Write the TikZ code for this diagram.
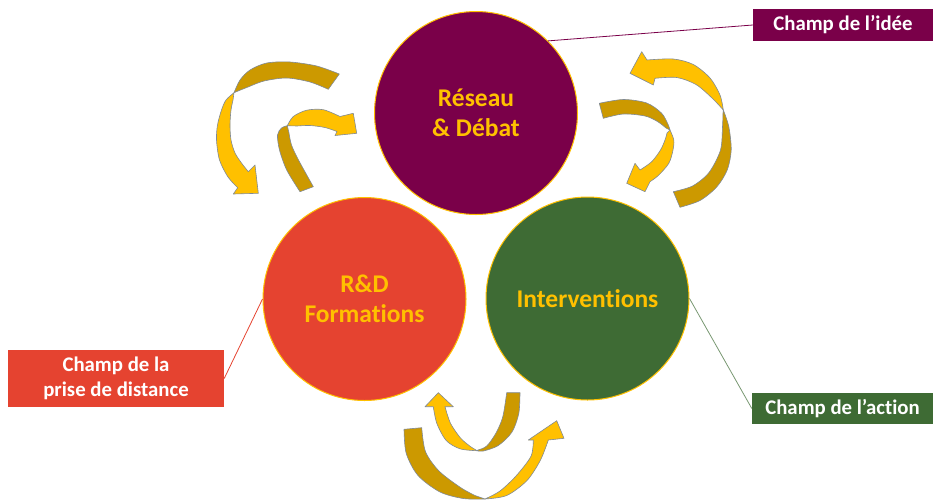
\documentclass[tikz,border=0pt]{standalone}
\usepackage{fontspec}
\setmainfont{Carlito}[Ligatures=NoCommon]
\definecolor{ideefill}{RGB}{122,0,73}
\definecolor{distfill}{RGB}{229,67,48}
\definecolor{actfill}{RGB}{62,107,52}
\definecolor{gold}{RGB}{255,192,0}
\definecolor{darkgold}{RGB}{204,153,0}
\definecolor{rim}{RGB}{128,138,150}
\tikzset{
  field/.style={
    % The shape:
    circle,
    % The size:
    minimum size=203pt, inner sep=0pt,
    % The border:
    draw=gold, line width=1pt,
    % The text:
    text=gold, align=center,
    font=\bfseries\fontsize{25.5}{30}\selectfont},
  tag/.style={
    % The shape:
    rectangle, inner sep=0pt,
    % The text:
    text=white, align=center,
    font=\bfseries\fontsize{20.8}{25}\selectfont},
  link/.style={line width=0.8pt},
  % The two faces of a ribbon arrow:
  upper side/.style={fill=gold, draw=rim, line width=0.6pt, line join=round},
  under side/.style={fill=darkgold, draw=rim, line width=0.6pt, line join=round}
}

\begin{document}
\begin{tikzpicture}[x=1pt,y=-1pt]
  \useasboundingbox (0,0) rectangle (933,499);

  % The fields:
  \node (reseau) [field, fill=ideefill] at (476,113)     {Réseau\\\& Débat};
  \node (rd)     [field, fill=distfill] at (364.5,299)   {R\&D\\Formations};
  \node (inter)  [field, fill=actfill]  at (587.5,298.5) {Interventions};

  % The tags:
  \node (idee)   [tag, fill=ideefill, minimum width=180pt, minimum height=32pt] at (843,25)    {Champ de l’idée};
  \node (recul)  [tag, fill=distfill, minimum width=216pt, minimum height=57pt] at (116,378.5) {Champ de la\\prise de distance};
  \node (action) [tag, fill=actfill,  minimum width=181pt, minimum height=31pt] at (842.5,408.5) {Champ de l’action};

  \draw[link, ideefill]         (reseau.45) -- (idee.west);
  \draw[link, distfill]         (rd.west)   -- (recul.east);
  \draw[link, actfill!70!white] (inter.east) -- (action.west);

  % Top left, outer arrow:
  \draw[under side] plot[smooth] coordinates {(339.3,74) (316.7,66) (290,62) (266.7,63) (250,70) (240,80) (234,92.7)}
    -- plot[smooth] coordinates {(238,91) (248,87) (264,81) (286.7,78) (310,82) (328.3,89.3)} -- cycle;
  \draw[upper side] plot[smooth] coordinates {(234,92.7) (226,100) (221.5,110) (217.5,125) (216.5,140) (219.5,160) (228,177) (237.7,187.7)}
    -- (233.3,194) -- (258.3,193.3) -- (255,165)
    -- plot[smooth] coordinates {(248.3,171.7) (241.7,163.3) (235,153) (231,140) (230,125) (231,110) (233,100)} -- cycle;
  % Top left, inner arrow:
  \draw[under side] plot[smooth] coordinates {(300,191.7) (286.7,170) (279.5,150) (277.5,135) (281.5,128) (287.3,125.7)}
    -- plot[smooth] coordinates {(289,133) (291.5,145) (298.5,160) (313.3,186.7)} -- cycle;
  \draw[upper side] plot[smooth] coordinates {(287.3,125.7) (293.3,116.5) (306.7,110.2) (323.3,109.7) (340,116.5)}
    -- (353.3,113.3) -- (356.7,133.3) -- (335,135.5)
    -- plot[smooth] coordinates {(337,131.5) (325,127.5) (310,125.5) (297,126)} -- cycle;

  % Top right, outer arrow:
  \draw[under side] plot[smooth] coordinates {(723.3,110) (728.8,126.7) (731.2,150) (727.2,170) (716.7,187) (700,200.5) (680,207.3)}
    -- plot[smooth] coordinates {(673.3,191.7) (692.5,186) (709,172.5) (720.5,150) (722.5,126.7) (723,113)} -- cycle;
  \draw[upper side] plot[smooth] coordinates {(723.3,110) (720,95) (710,78) (693.3,64.5) (673.3,59) (647,60)}
    -- (641.7,51.7) -- (630,73.3) -- (653.3,85)
    -- plot[smooth] coordinates {(655,78.3) (676.7,77.5) (696,84.5) (712,98) (721.5,108)} -- cycle;
  % Top right, inner arrow:
  \draw[under side] plot[smooth] coordinates {(599.3,103.3) (623.3,99.5) (646.7,103) (661.7,113.3) (668.3,125) (670,130)}
    -- plot[smooth] coordinates {(666,128) (657.5,121.5) (645,116) (623.3,114) (603.3,118.3)} -- cycle;
  \draw[upper side] plot[smooth] coordinates {(670,130) (673.8,140) (673,150) (668.8,163.3) (658.3,175.5) (650,181.7)}
    -- (645,191.7) -- (626.7,183.3) -- (635,163.3)
    -- plot[smooth] coordinates {(640,170) (651.7,161.7) (660.5,150) (665,140) (667,133)} -- cycle;

  % Bottom, inner arrow:
  \draw[under side] plot[smooth] coordinates {(476.7,450.7) (483.3,451) (498.3,445.5) (512,432) (518.8,413.3) (520,392.7)}
    -- plot[smooth] coordinates {(506.7,392.7) (502.8,416.7) (496,433) (486.7,446) (478,450)} -- cycle;
  \draw[upper side] plot[smooth] coordinates {(476.7,450.7) (460,448.8) (446.2,440.5) (436.8,423.3) (433.3,406.7)}
    -- (425,406.7) -- (438.3,392.7) -- (453.3,406.7)
    -- plot[smooth] coordinates {(445,406.7) (450.5,423.3) (460.5,438) (470,446.2) (476,450)} -- cycle;
  % Bottom, outer arrow:
  \draw[under side] plot[smooth] coordinates {(404,429.3) (406.2,453.3) (418,475.5) (440,492) (463.3,498.5) (485,499)}
    -- plot[smooth] coordinates {(475,495.5) (460.5,487.5) (439,471) (425.5,451.7) (421.7,427.7)} -- cycle;
  \draw[upper side] plot[smooth] coordinates {(485,499) (506.7,495.5) (527,480.5) (540.5,460) (548.3,440)}
    -- (564,438.3) -- (556.7,420.7) -- (528.3,440)
    -- plot[smooth] coordinates {(533.3,440) (531,456.2) (516,476) (500,491) (487,498)} -- cycle;

\end{tikzpicture}
\end{document}
